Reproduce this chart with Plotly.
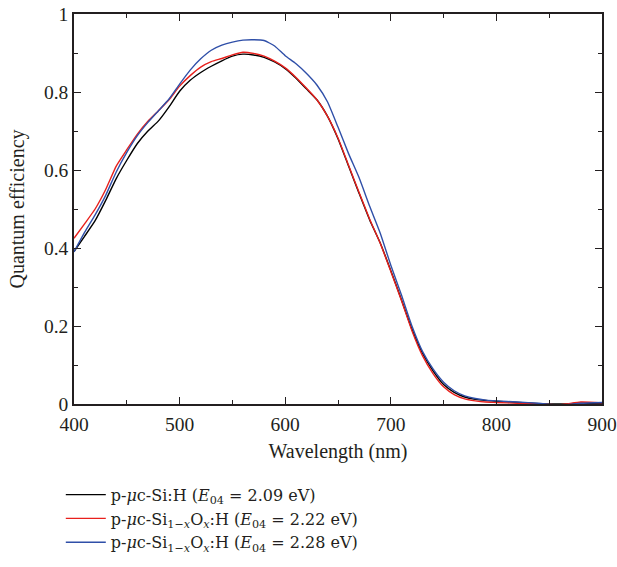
import plotly.graph_objects as go

wavelength = [400, 410, 420, 430, 440, 450, 460, 470, 480, 490, 500, 510, 520, 530, 540,
              550, 560, 570, 580, 590, 600, 610, 620, 630, 640, 650, 660, 670, 680, 690,
              700, 710, 720, 730, 740, 750, 760, 770, 780, 790, 800, 820, 840, 860, 880, 900]

qe_sih = [0.391, 0.430, 0.470, 0.522, 0.578, 0.625, 0.668, 0.700, 0.726, 0.762, 0.802, 0.830,
          0.850, 0.866, 0.880, 0.892, 0.897, 0.895, 0.889, 0.877, 0.860, 0.836, 0.808, 0.780,
          0.738, 0.680, 0.610, 0.540, 0.472, 0.413, 0.342, 0.268, 0.192, 0.130, 0.085, 0.050,
          0.030, 0.018, 0.012, 0.009, 0.007, 0.004, 0.001, 0.000, 0.002, 0.002]

qe_sio_222 = [0.425, 0.462, 0.500, 0.550, 0.610, 0.652, 0.692, 0.725, 0.752, 0.780, 0.815, 0.842,
              0.864, 0.878, 0.886, 0.895, 0.902, 0.899, 0.892, 0.879, 0.862, 0.838, 0.810, 0.780,
              0.738, 0.682, 0.612, 0.542, 0.474, 0.412, 0.340, 0.266, 0.188, 0.124, 0.078, 0.044,
              0.024, 0.013, 0.008, 0.005, 0.004, 0.002, 0.000, -0.002, 0.005, 0.003]

qe_sio_228 = [0.390, 0.440, 0.485, 0.535, 0.595, 0.645, 0.688, 0.722, 0.752, 0.782, 0.820, 0.856,
              0.885, 0.907, 0.920, 0.928, 0.933, 0.934, 0.932, 0.918, 0.893, 0.873, 0.848, 0.818,
              0.775, 0.710, 0.642, 0.580, 0.507, 0.438, 0.356, 0.280, 0.200, 0.135, 0.090, 0.056,
              0.034, 0.021, 0.014, 0.010, 0.008, 0.005, 0.002, -0.003, 0.002, 0.004]

names = [
    "p-<i>μ</i>c-Si:H (<i>E</i><sub>04</sub> = 2.09 eV)",
    "p-<i>μ</i>c-Si<sub>1−<i>x</i></sub>O<sub><i>x</i></sub>:H (<i>E</i><sub>04</sub> = 2.22 eV)",
    "p-<i>μ</i>c-Si<sub>1−<i>x</i></sub>O<sub><i>x</i></sub>:H (<i>E</i><sub>04</sub> = 2.28 eV)",
]
colors = ["#000000", "#e8201c", "#2f4fa8"]
series = [qe_sih, qe_sio_222, qe_sio_228]

fig = go.Figure()
for name, color, ys in zip(names, colors, series):
    fig.add_trace(go.Scatter(x=wavelength, y=ys, mode="lines", name=name,
                             line=dict(color=color, width=1.4, shape="spline", smoothing=0.5)))

font_family = "Liberation Serif, Times New Roman, serif"
fig.update_layout(
    width=617, height=567,
    margin=dict(l=74, r=15, t=14, b=163, autoexpand=False),
    paper_bgcolor="white", plot_bgcolor="white",
    font=dict(family=font_family, size=19.5, color="#231f20"),
    showlegend=True,
    legend=dict(x=-0.025, y=-0.189, xanchor="left", yanchor="top",
                font=dict(size=16, family="DejaVu Serif"), tracegroupgap=0, itemwidth=40,
                bgcolor="rgba(0,0,0,0)"),
)
fig.update_xaxes(
    range=[400, 900], tickvals=[400, 500, 600, 700, 800, 900],
    showline=True, linecolor="#231f20", linewidth=1.5, mirror="ticks",
    ticks="inside", ticklen=7, tickwidth=1.2, tickcolor="#231f20",
    minor=dict(ticks="inside", dtick=50, ticklen=4, tickwidth=1.2, tickcolor="#231f20"),
    showgrid=False, zeroline=False, ticklabelstandoff=2,
    title=dict(text="Wavelength (nm)", font=dict(size=20), standoff=10),
)
fig.update_yaxes(
    range=[0, 1], tickvals=[0, 0.2, 0.4, 0.6, 0.8, 1],
    ticktext=["0", "0.2", "0.4", "0.6", "0.8", "1"],
    showline=True, linecolor="#231f20", linewidth=1.5, mirror="ticks",
    ticks="inside", ticklen=7, tickwidth=1.2, tickcolor="#231f20",
    minor=dict(ticks="inside", dtick=0.1, ticklen=4, tickwidth=1.2, tickcolor="#231f20"),
    showgrid=False, zeroline=False,
    title=dict(text="Quantum efficiency", font=dict(size=20), standoff=14),
)
fig.write_html("out.html", config={"displayModeBar": False},
               post_script="document.body.style.margin='0';")
